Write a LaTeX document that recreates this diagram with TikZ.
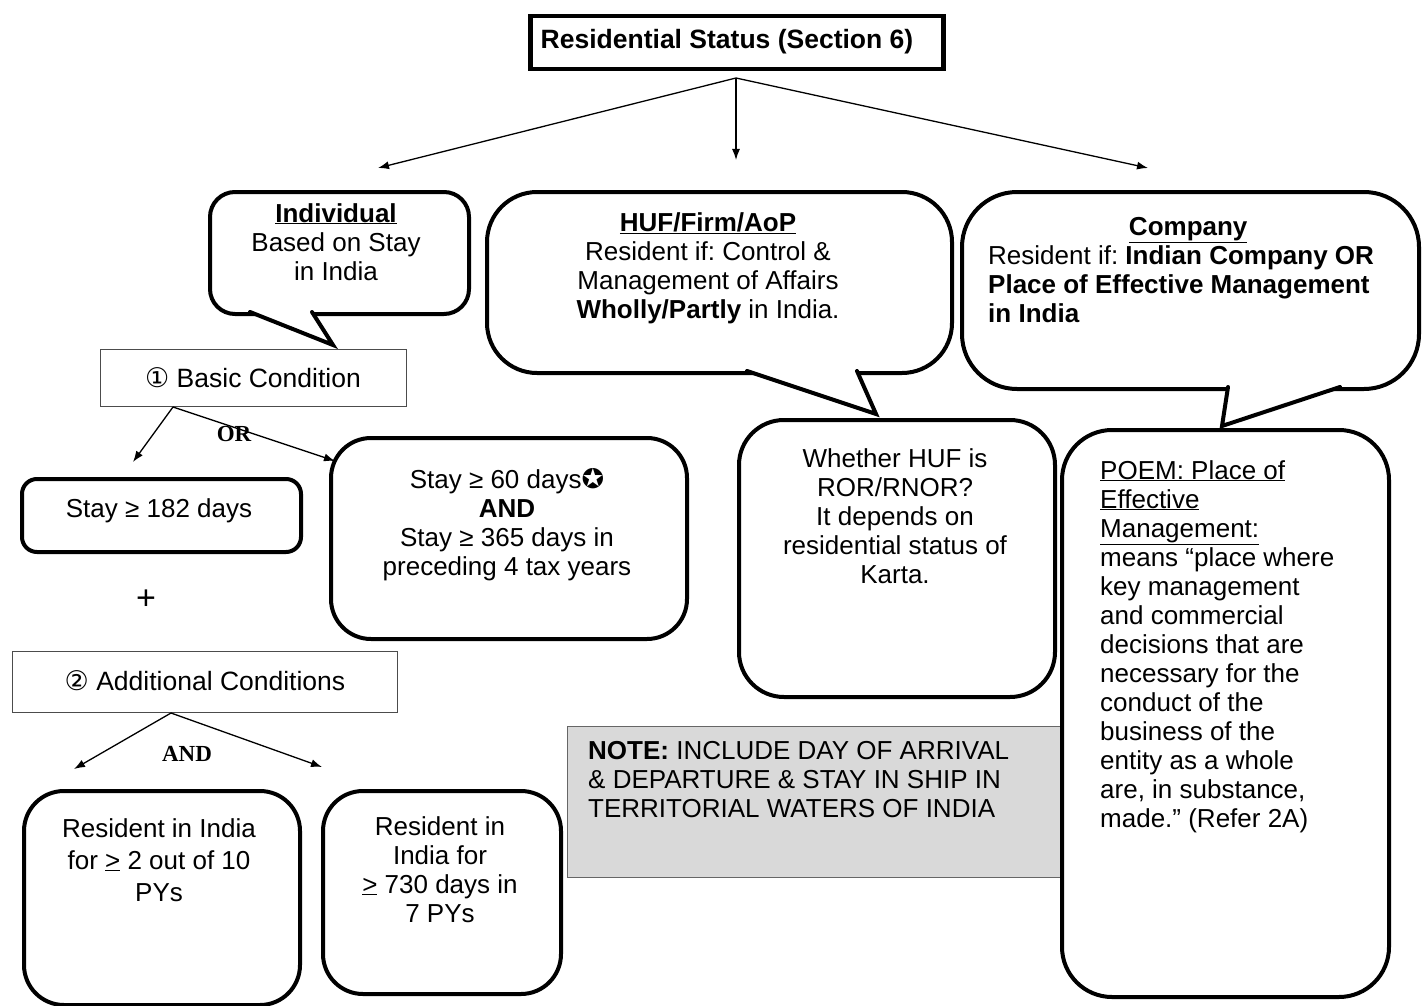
\documentclass[tikz,border=0pt]{standalone}
\usepackage{fontspec}
\setmainfont{Liberation Sans}
\newfontfamily\tnr{Liberation Serif}
\newfontfamily\dvs{DejaVu Sans}
\usetikzlibrary{arrows.meta,calc}
\tikzset{
  txt/.style={inner sep=0pt, font=\fontsize{26}{29}\selectfont},
  rbox/.style={draw, line width=4pt, fill=white, rounded corners=#1, inner sep=0pt, anchor=north west},
  thinbox/.style={draw=black!70, line width=1.2pt, fill=white, inner sep=0pt, anchor=north west},
  conn/.style={line width=1.3pt, -{Latex[length=11pt,width=8pt]}},
  tailline/.style={line width=4pt, line join=miter, line cap=round},
  lbl/.style={inner sep=0pt, font=\tnr\bfseries\fontsize{23}{26}\selectfont},
}
\begin{document}
\frenchspacing
\lineskiplimit=-100pt\relax
\begin{tikzpicture}[x=1pt,y=-1pt]
\useasboundingbox (0,0) rectangle (1424,1006);
\fill[white] (0,0) rectangle (1424,1006);

% title
\node[draw, line width=4.5pt, minimum width=413pt, minimum height=53pt, inner sep=0pt, anchor=north west] (title) at (528,14) {};
\node[inner sep=0pt, font=\fontsize{26.5}{30}\selectfont\bfseries] (titlet) at (727,42) {Residential Status (Section 6)};

\coordinate (top) at (736,78);
\coordinate (indA) at (378,168);
\coordinate (hufA) at (736,160);
\coordinate (comA) at (1148,168);
\draw[conn] (top) -- (indA);
\draw[conn] (top) -- (hufA);
\draw[conn] (top) -- (comA);

% Individual callout
\node[rbox=25, minimum width=259pt, minimum height=122pt] (indb) at (208,190) {};
\fill[white] (251,308) -- (311,308) -- (312,312) -- (333,345) -- (250,312) -- cycle;
\draw[tailline] (250,312) -- (333,345) -- (312,312);
\node[txt, anchor=base, align=center] (indt) at (336,280) {\underline{\textbf{Individual}}\\Based on Stay\\in India};

% HUF callout
\node[rbox=50, minimum width=465pt, minimum height=181pt] (hufb) at (485,190) {};
\fill[white] (748,367) -- (856,367) -- (857,371) -- (876,414) -- (747,371) -- cycle;
\draw[tailline] (747,371) -- (876,414) -- (857,371);
\node[txt, anchor=base, align=center] (huft) at (708,318) {\underline{\textbf{HUF/Firm/AoP}}\\Resident if: Control \&\\Management of Affairs\\\textbf{Wholly/Partly} in India.};

% Company callout
\node[rbox=55, minimum width=457pt, minimum height=197pt] (comb) at (960,190) {};
\fill[white] (1229,383) -- (1339,383) -- (1340,387) -- (1222,426) -- (1228,387) -- cycle;
\draw[tailline] (1228,387) -- (1222,426) -- (1340,387);
\node[txt, anchor=base west, align=left] (comt) at (988,322) {\makebox[400pt]{\underline{\textbf{Company}}}\\Resident if: \textbf{Indian Company OR}\\\textbf{Place of Effective Management}\\\textbf{in India}};

% Basic condition
\node[thinbox, minimum width=306pt, minimum height=57pt] (basic) at (100,349) {};
\node[txt, font=\fontsize{26.5}{29}\selectfont] (basict) at (253,378) {{\dvs\fontsize{27}{29}\selectfont ①} Basic Condition};
\coordinate (orS) at (173,407);
\coordinate (orL) at (133,462);
\coordinate (orR) at (335,461);
\draw[conn] (orS) -- (orL);
\draw[conn] (orS) -- (orR);
\node[lbl] (orlbl) at (234,434) {OR};

% Stay >= 182
\node[rbox=15, minimum width=279pt, minimum height=73pt] (s182) at (20,477) {};
\node[txt] (s182t) at (159,511) {Stay ≥ 182 days};

% Stay >= 60
\node[rbox=40, minimum width=356pt, minimum height=201pt] (s60) at (329,436) {};
\node[txt, anchor=base, align=center] (s60t) at (507,575) {Stay ≥ 60 days{\dvs\fontsize{27}{29}\selectfont ✪}\\\textbf{AND}\\Stay ≥ 365 days in\\preceding 4 tax years};

% plus
\node[inner sep=0pt, font=\fontsize{34}{34}\selectfont] (plus) at (146,600) {+};

% Additional conditions
\node[thinbox, minimum width=385pt, minimum height=61pt] (addl) at (12,651) {};
\node[txt, font=\fontsize{26.5}{29}\selectfont] (addlt) at (205,681) {{\dvs\fontsize{27}{29}\selectfont ②} Additional Conditions};
\coordinate (andS) at (171,713);
\coordinate (andL) at (74,769);
\coordinate (andR) at (322,767);
\draw[conn] (andS) -- (andL);
\draw[conn] (andS) -- (andR);
\node[lbl] (andlbl) at (187,754) {AND};

% Resident boxes
\node[rbox=40, minimum width=276pt, minimum height=214pt] (res1) at (22,789) {};
\node[txt, anchor=base, align=center, font=\fontsize{26}{32}\selectfont] (res1t) at (159,901) {Resident in India\\for \underline{>} 2 out of 10\\PYs};
\node[rbox=40, minimum width=238pt, minimum height=203pt] (res2) at (321,789) {};
\node[txt, anchor=base, align=center] (res2t) at (440,922) {Resident in\\India for\\\underline{>} 730 days in\\7 PYs};

% HUF box 2
\node[rbox=45, minimum width=316pt, minimum height=277pt] (huf2) at (737,418) {};
\node[txt, anchor=base, align=center] (huf2t) at (895,583) {Whether HUF is\\ROR/RNOR?\\It depends on\\residential status of\\Karta.};

% Note
\node[draw=black!60, line width=1.2pt, fill=black!15, inner sep=0pt, anchor=north west, minimum width=495pt, minimum height=151pt] (note) at (567,726) {};
\node[txt, anchor=base west, align=left] (notet) at (588,817) {\textbf{NOTE:} INCLUDE DAY OF ARRIVAL\\\& DEPARTURE \& STAY IN SHIP IN\\TERRITORIAL WATERS OF INDIA};

% POEM
\node[rbox=50, minimum width=327pt, minimum height=567pt] (poem) at (1060,428) {};
\node[txt, anchor=base west, align=left] (poemt) at (1100,827) {\underline{POEM: Place of}\\\underline{Effective}\\\underline{Management:}\\means “place where\\key management\\and commercial\\decisions that are\\necessary for the\\conduct of the\\business of the\\entity as a whole\\are, in substance,\\made.” (Refer 2A)};
\end{tikzpicture}
\end{document}
